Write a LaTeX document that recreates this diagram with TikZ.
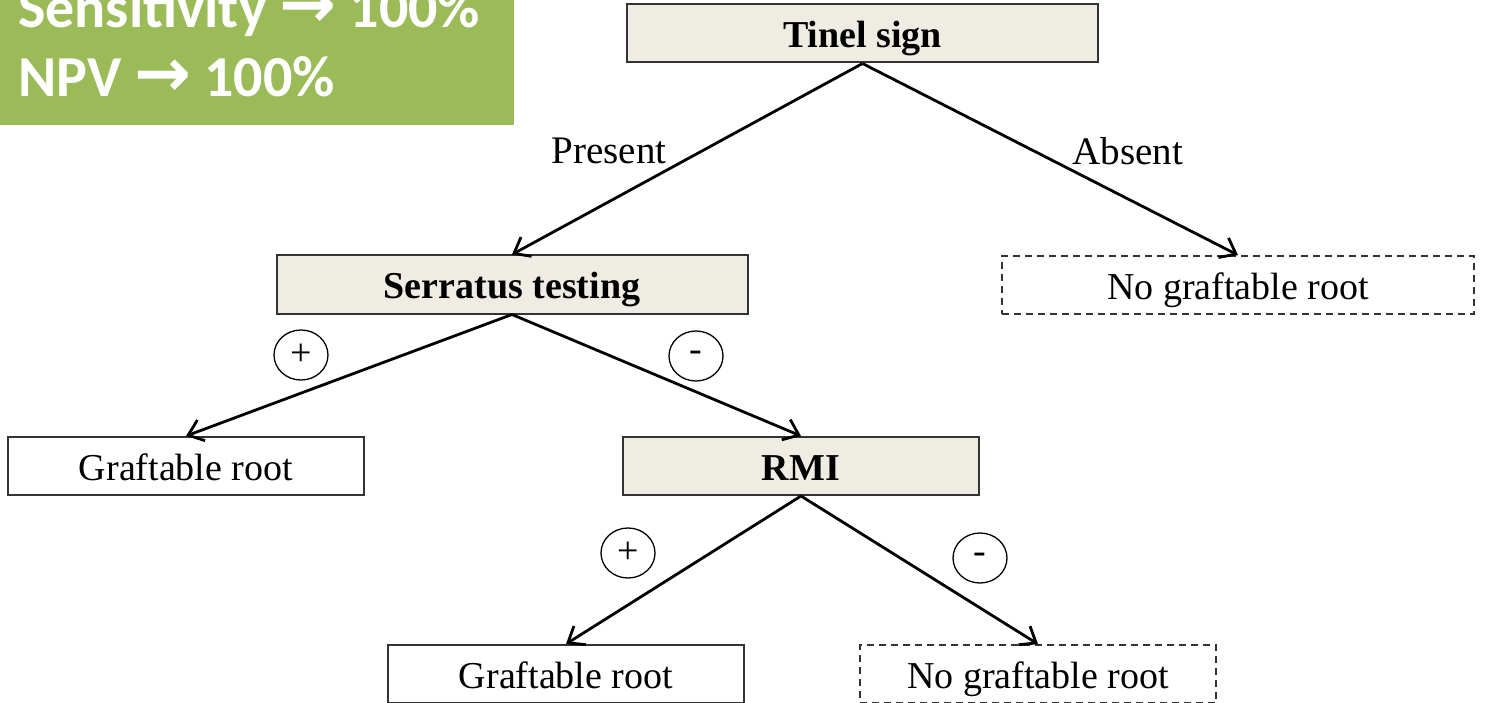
\documentclass[tikz,border=0pt]{standalone}
\usepackage{fontspec}
\setmainfont{Liberation Serif}
\newfontfamily\calib{Carlito}
\newfontfamily\arrfont{DejaVu Sans}
\usetikzlibrary{arrows.meta,shapes.geometric}
\definecolor{boxfill}{HTML}{EFECE4}
\definecolor{boxline}{HTML}{333333}
\definecolor{banner}{HTML}{9BBB59}
\tikzset{
  qbox/.style={draw=boxline, line width=2pt, fill=boxfill, minimum width=471pt, minimum height=58pt, inner sep=0pt, text height=33pt, text depth=5pt, font=\fontsize{38}{42}\selectfont\bfseries},
  rbox/.style={draw=boxline, line width=2pt, fill=white, minimum width=356pt, minimum height=58pt, inner sep=0pt, text height=33pt, text depth=5pt, font=\fontsize{38}{42}\selectfont},
  dbox/.style={rbox, dash pattern=on 7pt off 5pt, line width=1.8pt},
  link/.style={line width=2.8pt, -{Straight Barb[length=14pt,width=22pt,line width=2.8pt]}},
  sgn/.style={draw, line width=1.3pt, ellipse, inner sep=0pt, minimum width=54pt, minimum height=50pt, font=\fontsize{38}{40}\selectfont},
  lbl/.style={font=\fontsize{39}{42}\selectfont, inner sep=0pt},
  ban/.style={anchor=base west, text=white, inner sep=0pt, font=\calib\fontsize{58}{62}\selectfont\bfseries}
}
\newcommand{\bigarr}{{\arrfont\fontsize{68}{68}\selectfont\bfseries→}}
\begin{document}
\begin{tikzpicture}[x=1pt,y=-1pt]
\useasboundingbox (0,0) rectangle (1485,703);
\clip (0,0) rectangle (1485,703);
\fill[white] (0,0) rectangle (1485,703);
% banner
\fill[banner] (0,0) rectangle (514,125);
\node[ban] (sens) at (18,28) {Sensitivity \bigarr{} 100\%};
\node[ban] (npv) at (18,97) {NPV \bigarr{} 100\%};
% boxes
\node[qbox] (tinel) at (862.5,33.5) {Tinel sign};
\node[qbox] (serr) at (512,284.5) {Serratus testing};
\node[dbox, minimum width=472pt] (nog1) at (1238,285) {No graftable root};
\node[rbox] (gr1) at (186,466) {Graftable root};
\node[qbox, minimum width=356pt] (rmi) at (801,466) {RMI};
\node[rbox] (gr2) at (566,674) {Graftable root};
\node[dbox] (nog2) at (1038,674) {No graftable root};
% links
\draw[link] (tinel.south) -- (serr.north);
\draw[link] (tinel.south) -- (nog1.north);
\draw[link] (serr.south) -- (gr1.north);
\draw[link] (serr.south) -- (rmi.north);
\draw[link] (rmi.south) -- (gr2.north);
\draw[link] (rmi.south) -- (nog2.north);
% labels
\node[lbl] (present) at (609,151) {Present};
\node[lbl] (absent) at (1128,151) {Absent};
\node[sgn] (p1) at (301,355) {+};
\node[sgn] (m1) at (696,356) {-};
\node[sgn] (p2) at (628,553) {+};
\node[sgn] (m2) at (980,558) {-};
\end{tikzpicture}
\end{document}
